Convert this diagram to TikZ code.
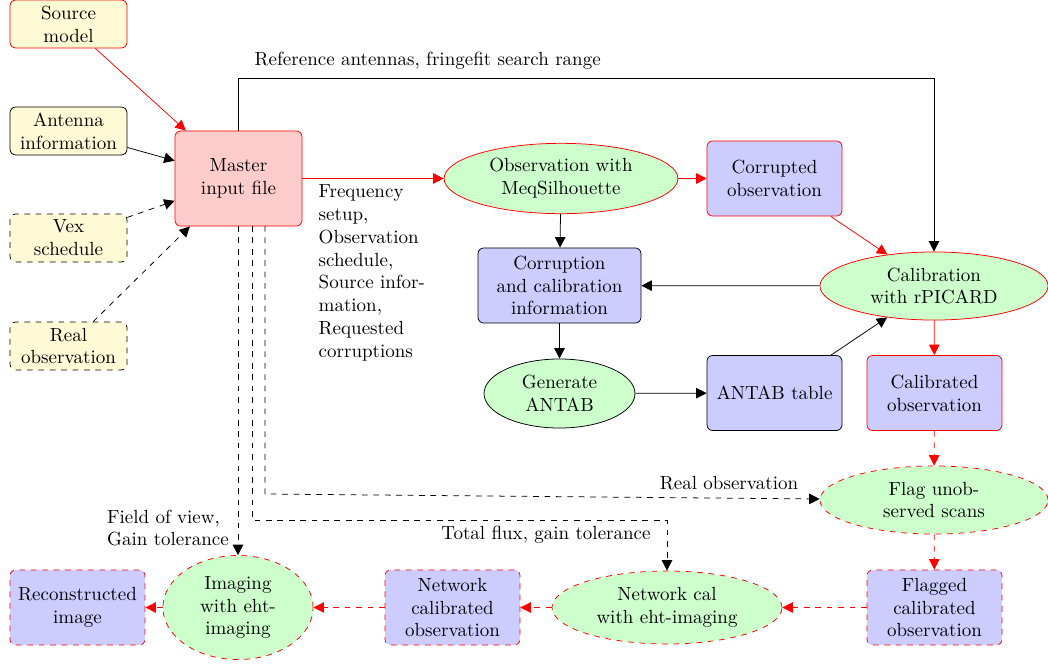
\documentclass[tikz,border=0pt]{standalone}
\usetikzlibrary{arrows.meta,shapes.geometric}
\definecolor{inyel}{RGB}{255,250,214}
\begin{document}
\begin{tikzpicture}[x=0.526pt,y=-0.526pt,
  arr/.style={-{Triangle[length=5.5pt,width=5.5pt]}},
  box/.style={rectangle, rounded corners=3pt, draw, align=center, inner sep=1pt, minimum width=71pt, minimum height=39.5pt},
  inbox/.style={rectangle, rounded corners=3pt, draw, align=center, fill=inyel, inner sep=1pt, minimum width=61.5pt, minimum height=25.2pt},
  ell/.style={ellipse, draw, fill=green!20, align=center, inner sep=0pt},
  lab/.style={align=left}
]
\useasboundingbox (0,0) rectangle (1048,666);
% input boxes
\node[inbox, draw=red] (src) at (68.5,24) {Source\\model};
\node[inbox] (ant) at (68.5,131) {Antenna\\information};
\node[inbox, dashed] (vex) at (68.5,238) {Vex\\schedule};
\node[inbox, dashed] (real) at (68.5,346) {Real\\observation};
\node[box, draw=red, fill=red!20, minimum width=66.8pt, minimum height=50pt] (master) at (238.5,178.5) {Master\\input file};
% main chain
\node[ell, draw=red, minimum width=123pt, minimum height=37pt] (meq) at (561,178.5) {Observation with\\MeqSilhouette};
\node[box, draw=red, fill=blue!20] (corr) at (774.5,178.5) {Corrupted\\observation};
\node[box, fill=blue!20, minimum width=85.7pt] (cinfo) at (559.5,285.5) {Corruption\\and calibration\\information};
\node[ell, draw=red, minimum width=120pt, minimum height=35.8pt] (rpic) at (934,286) {Calibration\\with rPICARD};
\node[ell, minimum width=79.4pt, minimum height=36.3pt] (gen) at (559.5,393.5) {Generate\\ANTAB};
\node[box, fill=blue!20] (antab) at (774.5,393) {ANTAB table};
\node[box, draw=red, fill=blue!20] (cal) at (934.5,393) {Calibrated\\observation};
\node[ell, dashed, draw=red, minimum width=120pt, minimum height=35.8pt] (flag) at (934,500) {Flag unob-\\served scans};
\node[box, dashed, draw=red, fill=blue!20] (fcal) at (934.5,607.5) {Flagged\\calibrated\\observation};
\node[ell, dashed, draw=red, minimum width=121pt, minimum height=38.4pt] (ncal) at (667,607.5) {Network cal\\with eht-imaging};
\node[box, dashed, draw=red, fill=blue!20] (nobs) at (452.5,607.5) {Network\\calibrated\\observation};
\node[ell, dashed, draw=red, minimum width=79pt, minimum height=54.7pt] (img) at (238,607.5) {Imaging\\with eht-\\imaging};
\node[box, dashed, draw=red, fill=blue!20] (rec) at (77.5,607.5) {Reconstructed\\image};
% labels
\node[anchor=west] (reflab) at (248,61) {Reference antennas, fringefit search range};
\node[anchor=north west, lab] (freqlab) at (312,178) {Frequency\\setup,\\Observation\\schedule,\\Source infor-\\mation,\\Requested\\corruptions};
\node (rlab) at (729,483) {Real observation};
\node (tlab) at (546,535) {Total flux, gain tolerance};
\node[lab] (flab) at (168,528) {Field of view,\\Gain tolerance};
% connectors
\draw[arr, red] (src) -- (master);
\draw[arr] (ant) -- (master);
\draw[arr, dashed] (vex) -- (master);
\draw[arr, dashed] (real) -- (master);
\draw[arr, red] (master) -- (meq);
\draw[arr, red] (meq) -- (corr);
\draw[arr] (meq) -- (cinfo);
\draw[arr, red] (corr) -- (rpic);
\draw[arr] (rpic) -- (cinfo);
\draw[arr] (cinfo) -- (gen);
\draw[arr] (gen) -- (antab);
\draw[arr] (antab) -- (rpic);
\draw[arr, red] (rpic) -- (cal);
\draw[arr, red, dashed] (cal) -- (flag);
\draw[arr, red, dashed] (flag) -- (fcal);
\draw[arr, red, dashed] (fcal) -- (ncal);
\draw[arr, red, dashed] (ncal) -- (nobs);
\draw[arr, red, dashed] (nobs) -- (img);
\draw[arr, red, dashed] (img) -- (rec);
\coordinate (rtop) at (934,78);
\draw[arr] (master.north) |- (rtop) -- (rpic.north);
\coordinate (d1) at (238,226);
\coordinate (d2) at (252,226);
\coordinate (d3) at (265,226);
\coordinate (t2) at (667,520);
\coordinate (t3) at (265,494);
\draw[arr, dashed] (d1) -- (img.north);
\draw[arr, dashed] (d2) |- (t2) -- (ncal.north);
\draw[arr, dashed] (d3) -- (t3) -- (flag);
\end{tikzpicture}
\end{document}
